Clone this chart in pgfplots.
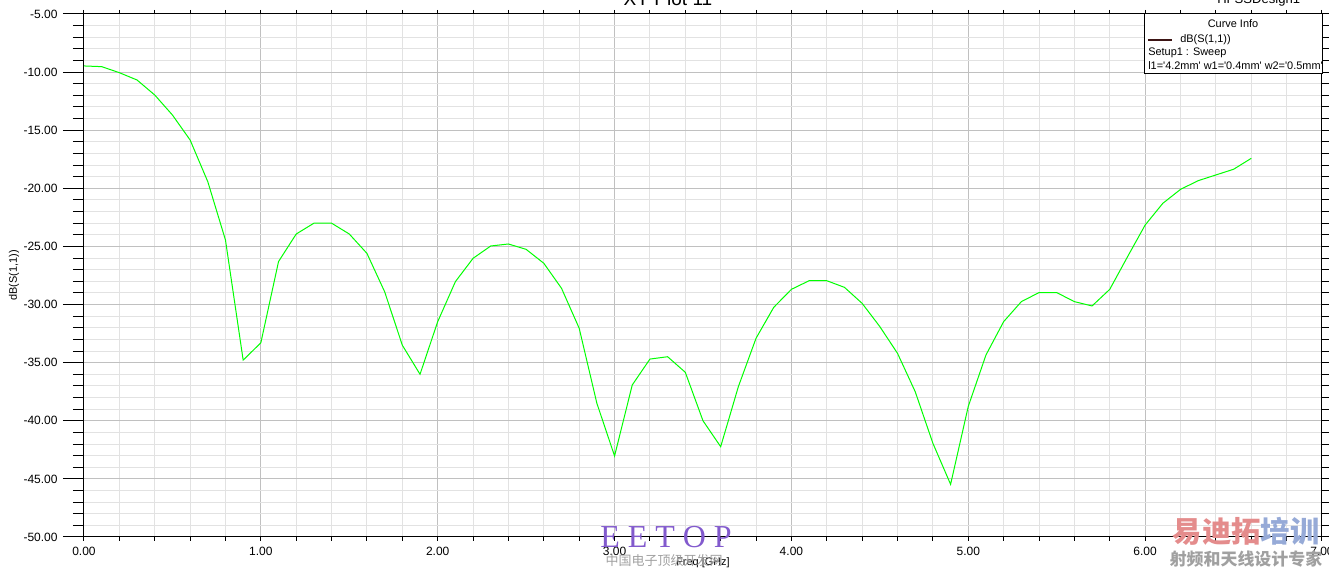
\documentclass[border=0pt]{standalone}
\usepackage{fontspec}
\setmainfont{Liberation Sans}
\newfontfamily\wmserif{Liberation Serif}
\newfontfamily\cjk{Noto Sans CJK SC}
\usepackage{pgfplots}
\pgfplotsset{compat=1.18}
\usepackage{pgfplotstable}

\definecolor{curvegreen}{RGB}{0,255,0}
\definecolor{majgrid}{RGB}{192,192,192}
\definecolor{mingrid}{RGB}{226,226,226}
\definecolor{legline}{RGB}{60,20,20}
\definecolor{eetop}{RGB}{130,90,205}
\definecolor{wmred}{RGB}{228,140,140}
\definecolor{wmblue}{RGB}{150,170,215}
\definecolor{wmgray}{RGB}{160,160,160}

% dB(S(1,1)) vs frequency
\pgfplotstableread{
f    s11
0.0  -9.47
0.1  -9.53
0.2  -10.05
0.3  -10.68
0.4  -11.97
0.5  -13.69
0.6  -15.84
0.7  -19.43
0.8  -24.45
0.9  -34.78
1.0  -33.29
1.1  -26.30
1.2  -23.93
1.3  -23.00
1.4  -23.00
1.5  -23.93
1.6  -25.60
1.7  -28.90
1.8  -33.50
1.9  -36.00
2.0  -31.47
2.1  -28.03
2.2  -26.02
2.3  -24.96
2.4  -24.79
2.5  -25.25
2.6  -26.45
2.7  -28.60
2.8  -32.04
2.9  -38.50
3.0  -43.03
3.1  -36.92
3.2  -34.69
3.3  -34.49
3.4  -35.83
3.5  -40.00
3.6  -42.23
3.7  -37.06
3.8  -32.90
3.9  -30.24
4.0  -28.69
4.1  -27.95
4.2  -27.95
4.3  -28.52
4.4  -29.90
4.5  -31.90
4.6  -34.20
4.7  -37.50
4.8  -41.94
4.9  -45.47
5.0  -38.76
5.1  -34.34
5.2  -31.47
5.3  -29.75
5.4  -28.97
5.5  -28.97
5.6  -29.75
5.7  -30.12
5.8  -28.69
5.9  -25.90
6.0  -23.16
6.1  -21.29
6.2  -20.09
6.3  -19.34
6.4  -18.85
6.5  -18.36
6.6  -17.42
}\sparam

\begin{document}
\begin{tikzpicture}
\begin{axis}[
    name=ax,
    scale only axis,
    width=928.5pt, height=392.25pt,
    xmin=0, xmax=7, ymin=-50, ymax=-5,
    xtick={0,1,...,7},
    ytick={-50,-45,...,-5},
    minor x tick num=4, minor y tick num=4,
    grid=both,
    major grid style={draw=majgrid, line width=0.75pt},
    minor grid style={draw=mingrid, line width=0.75pt},
    axis line style={line width=0.75pt},
    tick align=outside,
    tick style={black, line width=0.75pt},
    x tick style={/pgfplots/major tick length=3pt, /pgfplots/minor tick length=3pt},
    y tick style={/pgfplots/major tick length=15.75pt, /pgfplots/minor tick length=8.25pt},
    ticklabel style={font=\fontsize{9}{10}\selectfont},
    yticklabel style={xshift=-12pt},
    /pgf/number format/.cd, fixed, fixed zerofill, precision=2, assume math mode=true,
    /pgfplots/.cd,
    xlabel={Freq [GHz]},
    ylabel={dB(S(1,1))},
    label style={font=\fontsize{8.2}{9}\selectfont},
    xlabel style={at={(axis description cs:0.5,-0.0497)}, anchor=center},
    ylabel style={at={(axis description cs:-0.0565,0.5)}, anchor=center},
  ]
  \addplot[curvegreen, line width=0.75pt] table[x=f, y=s11] {\sparam};
\end{axis}

% overlay in image pixels (origin = top-left of the reference image)
\begin{scope}[shift={(ax.south west)}]
\begin{scope}[shift={(-63pt,402.75pt)}, x=0.75pt, y=-0.75pt]
  % clipped title texts
  \node[anchor=base, inner sep=0, font=\fontsize{14.3}{15}\selectfont] at (668,6) {XY Plot 11};
  \node[anchor=base west, inner sep=0, font=\fontsize{9.8}{10}\selectfont] at (1217,4) {HFSSDesign1};
  % curve info box
  \draw[fill=white, line width=0.75pt] (1144,14) rectangle (1322,74);
  \node[inner sep=0, font=\fontsize{8.2}{9}\selectfont] at (1233,24) {Curve Info};
  \draw[legline, line width=1.5pt] (1148,40) -- (1172,40);
  \node[anchor=west, inner sep=0, font=\fontsize{8.2}{9}\selectfont] at (1180,40) {dB(S(1,1))};
  \node[anchor=west, inner sep=0, font=\fontsize{8.2}{9}\selectfont] at (1148,53) {Setup1 : Sweep};
  \node[anchor=west, inner sep=0, font=\fontsize{8.2}{9}\selectfont] at (1148,66)
    {l1=\textquotesingle 4.2mm\textquotesingle\ w1=\textquotesingle 0.4mm\textquotesingle\ w2=\textquotesingle 0.5mm\textquotesingle};
  % watermarks
  \node[anchor=base west, inner sep=0, text=eetop, font=\wmserif\fontsize{24}{24}\selectfont] at (600,548) {E E T O P};
  \node[inner sep=0, text=wmgray, font=\cjk\fontsize{9.75}{10}\selectfont] at (664,561) {中国电子顶级开发网};
  \node[inner sep=0, font=\cjk\bfseries\fontsize{22}{22}\selectfont] at (1246,531)
    {\textcolor{wmred}{易迪拓}\textcolor{wmblue}{培训}};
  \node[inner sep=0, text=wmgray, font=\cjk\bfseries\fontsize{12.7}{13}\selectfont] at (1246,559) {射频和天线设计专家};
  \pgfresetboundingbox
  \useasboundingbox (0,0) rectangle (1329,574);
\end{scope}
\end{scope}
\end{tikzpicture}
\end{document}
